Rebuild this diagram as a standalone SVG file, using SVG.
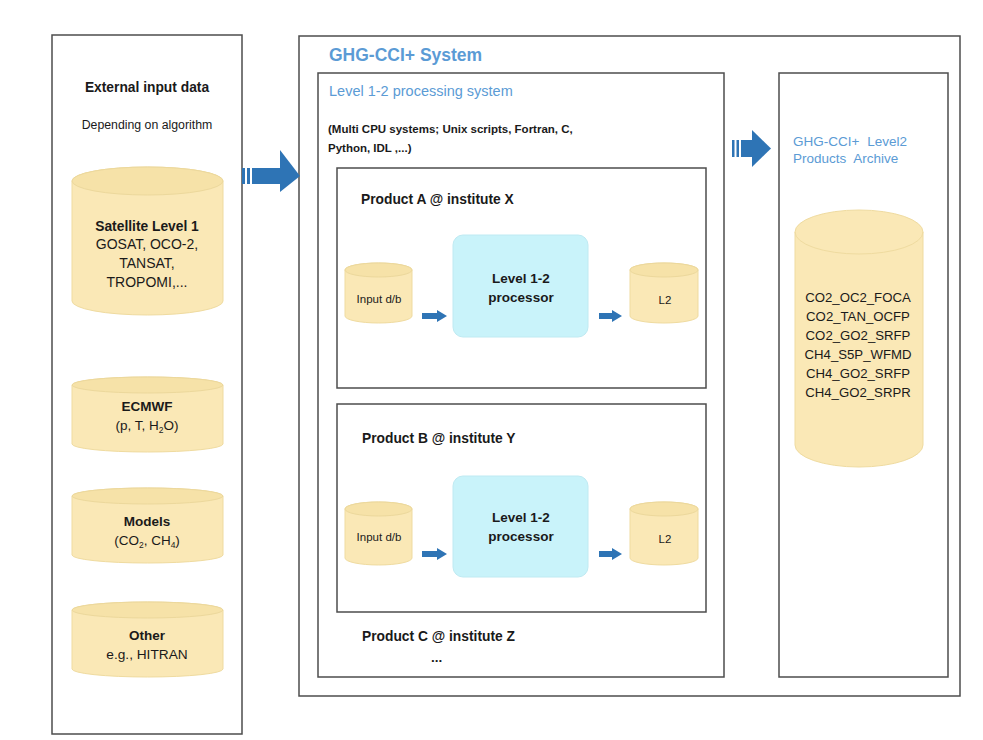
<svg xmlns="http://www.w3.org/2000/svg" width="983" height="740" viewBox="0 0 983 740">
<defs>
<style>
.box{fill:#fff;stroke:#4d4d4d;stroke-width:1.5}
.cyl{fill:#fae8b6;stroke:#efdba0;stroke-width:1}
.cyltop{fill:#f6e2a8;stroke:#ecd89c;stroke-width:1}
.proc{fill:#c9f3fa;stroke:#bfeaf2;stroke-width:1}
.t{font-family:"Liberation Sans",Arial,sans-serif;fill:#1a1a1a}
.b{font-weight:bold}
.blue{fill:#5b9bd5}
.arr{fill:#2e74b5}
</style>
</defs>
<rect width="983" height="740" fill="#fff"/>

<!-- Left external input box -->
<g id="external-input">
<rect class="box" x="52" y="35" width="190" height="699"/>
<text class="t b" x="147" y="92" font-size="13.8" text-anchor="middle">External input data</text>
<text class="t" x="147" y="129" font-size="12.3" text-anchor="middle">Depending on algorithm</text>
</g>

<g id="satellite-l1">
<path class="cyl" d="M72,181 A75.5,14 0 0 1 223,181 L223,301 A75.5,14 0 0 1 72,301 Z"/>
<ellipse class="cyltop" cx="147.5" cy="181" rx="75.5" ry="14"/>
<text class="t b" x="147" y="231" font-size="13.8" text-anchor="middle">Satellite Level 1</text>
<text class="t" x="147" y="249" font-size="14" text-anchor="middle">GOSAT, OCO-2,</text>
<text class="t" x="147" y="268" font-size="14" text-anchor="middle">TANSAT,</text>
<text class="t" x="147" y="287" font-size="14" text-anchor="middle">TROPOMI,...</text>
</g>

<g id="ecmwf">
<path class="cyl" d="M72,385 A75.5,8 0 0 1 223,385 L223,444 A75.5,8 0 0 1 72,444 Z"/>
<ellipse class="cyltop" cx="147.5" cy="385" rx="75.5" ry="8"/>
<text class="t b" x="147" y="411" font-size="13.5" text-anchor="middle">ECMWF</text>
<text class="t" x="147" y="430" font-size="13.5" text-anchor="middle">(p, T, H<tspan font-size="8.5" dy="3">2</tspan><tspan dy="-3">O)</tspan></text>
</g>

<g id="models">
<path class="cyl" d="M72,496 A75.5,8 0 0 1 223,496 L223,555 A75.5,8 0 0 1 72,555 Z"/>
<ellipse class="cyltop" cx="147.5" cy="496" rx="75.5" ry="8"/>
<text class="t b" x="147" y="526" font-size="13.5" text-anchor="middle">Models</text>
<text class="t" x="147" y="545" font-size="13.5" text-anchor="middle">(CO<tspan font-size="8.5" dy="3">2</tspan><tspan dy="-3">, CH</tspan><tspan font-size="8.5" dy="3">4</tspan><tspan dy="-3">)</tspan></text>
</g>

<g id="other">
<path class="cyl" d="M72,610 A75.5,8 0 0 1 223,610 L223,669 A75.5,8 0 0 1 72,669 Z"/>
<ellipse class="cyltop" cx="147.5" cy="610" rx="75.5" ry="8"/>
<text class="t b" x="147" y="640" font-size="13.5" text-anchor="middle">Other</text>
<text class="t" x="147" y="659" font-size="13.7" text-anchor="middle">e.g., HITRAN</text>
</g>

<!-- GHG-CCI+ System -->
<g id="ghg-system">
<rect class="box" x="299" y="36" width="661" height="660"/>
<text class="t b blue" x="329" y="61" font-size="17.5">GHG-CCI+ System</text>
</g>

<g id="l12-processing">
<rect class="box" x="318" y="73" width="406" height="604"/>
<text class="t blue" x="329" y="96" font-size="14.5">Level 1-2 processing system</text>
<text class="t b" x="328" y="133" font-size="11.5">(Multi CPU systems; Unix scripts, Fortran, C,</text>
<text class="t b" x="328" y="152" font-size="11.5">Python, IDL ,...)</text>
<text class="t b" x="362" y="641" font-size="13.8">Product C @ institute Z</text>
<text class="t b" x="431" y="662" font-size="13.5">...</text>
</g>

<g id="product-a">
<rect class="box" x="337" y="168" width="369" height="220"/>
<text class="t b" x="361" y="204" font-size="13.8">Product A @ institute X</text>
</g>
<g id="input-a">
<path class="cyl" d="M345,270 A33.5,7 0 0 1 412,270 L412,316 A33.5,7 0 0 1 345,316 Z"/>
<ellipse class="cyltop" cx="378.5" cy="270" rx="33.5" ry="7"/>
<text class="t" x="379" y="303" font-size="11.5" text-anchor="middle">Input d/b</text>
</g>
<g id="proc-a">
<rect class="proc" x="453" y="235" width="135" height="102" rx="10"/>
<text class="t b" x="521" y="283" font-size="13.5" text-anchor="middle">Level 1-2</text>
<text class="t b" x="521" y="302" font-size="13.5" text-anchor="middle">processor</text>
</g>
<g id="l2-a">
<path class="cyl" d="M630,270 A34,7 0 0 1 698,270 L698,316 A34,7 0 0 1 630,316 Z"/>
<ellipse class="cyltop" cx="664" cy="270" rx="34" ry="7"/>
<text class="t" x="665" y="304" font-size="11.5" text-anchor="middle">L2</text>
</g>

<g id="product-b">
<rect class="box" x="337" y="404" width="369" height="208"/>
<text class="t b" x="362" y="443" font-size="13.8">Product B @ institute Y</text>
</g>
<g id="input-b">
<path class="cyl" d="M345,509 A33.5,7 0 0 1 412,509 L412,558 A33.5,7 0 0 1 345,558 Z"/>
<ellipse class="cyltop" cx="378.5" cy="509" rx="33.5" ry="7"/>
<text class="t" x="379" y="541" font-size="11.5" text-anchor="middle">Input d/b</text>
</g>
<g id="proc-b">
<rect class="proc" x="453" y="476" width="135" height="101" rx="10"/>
<text class="t b" x="521" y="522" font-size="13.5" text-anchor="middle">Level 1-2</text>
<text class="t b" x="521" y="541" font-size="13.5" text-anchor="middle">processor</text>
</g>
<g id="l2-b">
<path class="cyl" d="M630,509 A34,7 0 0 1 698,509 L698,558 A34,7 0 0 1 630,558 Z"/>
<ellipse class="cyltop" cx="664" cy="509" rx="34" ry="7"/>
<text class="t" x="665" y="543" font-size="11.5" text-anchor="middle">L2</text>
</g>

<!-- Archive -->
<g id="archive">
<rect class="box" x="779" y="73" width="169" height="604"/>
<text class="t blue" x="793" y="146" font-size="13.5" word-spacing="4">GHG-CCI+ Level2</text>
<text class="t blue" x="793" y="163" font-size="13.5" word-spacing="4">Products Archive</text>
</g>
<g id="archive-db">
<path class="cyl" d="M795,232 A64,22 0 0 1 923,232 L923,445 A64,22 0 0 1 795,445 Z"/>
<path d="M795,232 A64,22 0 0 0 923,232" fill="none" stroke="#efdba0" stroke-width="1"/>
<g class="t" font-size="13.2" text-anchor="middle">
<text x="858" y="302">CO2_OC2_FOCA</text>
<text x="858" y="321">CO2_TAN_OCFP</text>
<text x="858" y="340">CO2_GO2_SRFP</text>
<text x="858" y="359">CH4_S5P_WFMD</text>
<text x="858" y="378">CH4_GO2_SRFP</text>
<text x="858" y="397">CH4_GO2_SRPR</text>
</g>
</g>

<!-- Connectors -->
<g id="connectors">
<g id="arrow-input-system">
<rect class="arr" x="242" y="168" width="3" height="16"/>
<rect class="arr" x="247" y="168" width="3" height="16"/>
<rect class="arr" x="252" y="168" width="29" height="16"/>
<polygon class="arr" points="280,150 300,176 280,192"/>
</g>
<g id="arrow-system-archive">
<rect class="arr" x="732" y="140" width="2.5" height="17"/>
<rect class="arr" x="736.5" y="140" width="2.5" height="17"/>
<rect class="arr" x="741" y="140" width="12" height="17"/>
<polygon class="arr" points="752,130 771,148.5 752,167"/>
</g>
<polygon class="arr" points="422,313 437,313 437,310 447,316 437,322 437,319 422,319"/>
<polygon class="arr" points="599,313 612,313 612,310 622,316 612,322 612,319 599,319"/>
<polygon class="arr" points="422,551 437,551 437,548 447,554 437,560 437,557 422,557"/>
<polygon class="arr" points="599,551 612,551 612,548 622,554 612,560 612,557 599,557"/>
</g>
</svg>
